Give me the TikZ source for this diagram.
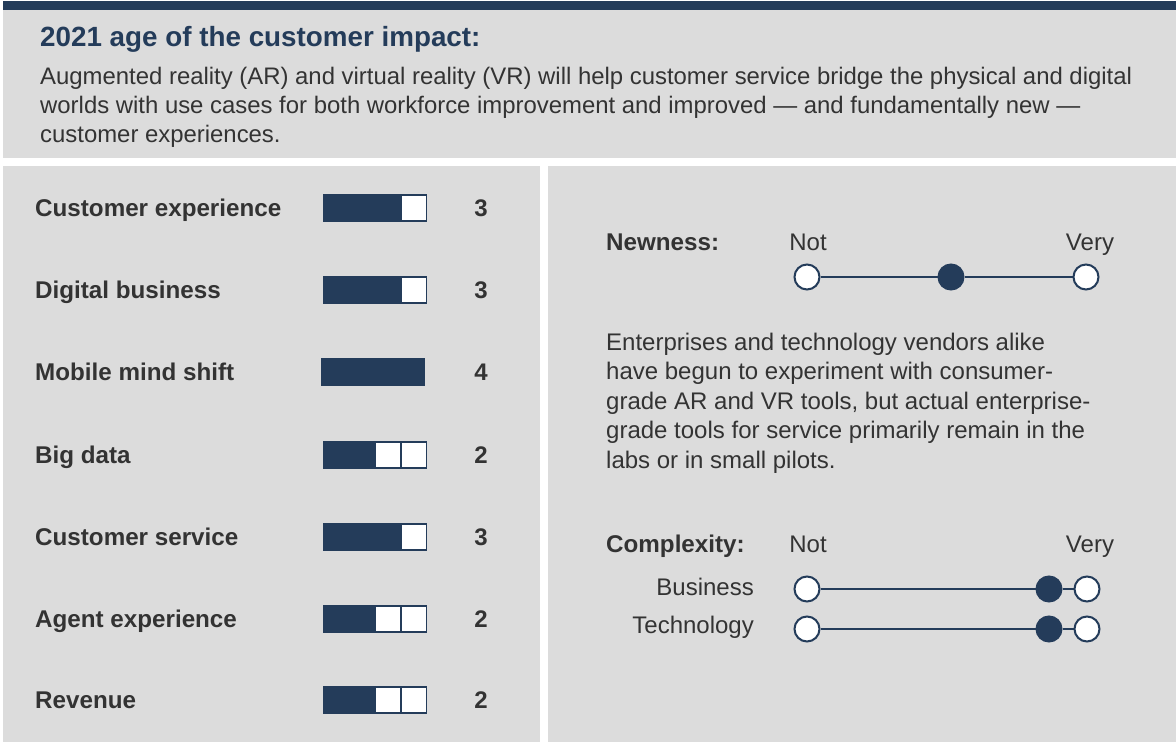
\documentclass[tikz,border=0pt]{standalone}
\usepackage{fontspec}
\setmainfont{Liberation Sans}
\definecolor{navy}{HTML}{243C5A}
\definecolor{panelgray}{HTML}{DCDCDC}
\definecolor{textgray}{HTML}{333333}
\tikzset{
  lbl/.style={anchor=base west, inner sep=0, text=textgray, font=\fontsize{24.2}{28}\selectfont\bfseries},
  txt/.style={inner sep=0, text=textgray, font=\fontsize{24}{28}\selectfont},
  score/.style={anchor=base, inner sep=0, text=textgray, font=\fontsize{24}{28}\selectfont\bfseries},
  seg/.style={rectangle, draw=navy, line width=1.2pt, minimum width=25, minimum height=26, inner sep=0},
  full/.style={seg, fill=navy},
  empty/.style={seg, fill=white},
  dot/.style={circle, draw=navy, line width=2pt, fill=white, minimum size=25, inner sep=0},
  hit/.style={dot, fill=navy},
  scaleline/.style={draw=navy, line width=2.2pt},
}
\begin{document}
\begin{tikzpicture}[x=1pt,y=-1pt]
\useasboundingbox (0,0) rectangle (1176,742);
% panels
\fill[navy] (3,1) rectangle (1176,10);
\fill[panelgray] (3,10) rectangle (1176,158);
\fill[panelgray] (3,166) rectangle (540,742);
\fill[panelgray] (548,166) rectangle (1176,742);

% header
\node[anchor=base west, inner sep=0, text=navy, font=\fontsize{27.8}{32}\selectfont\bfseries](title) at (40,46) {2021 age of the customer impact:};
% base = last line
\node[txt, anchor=base west, align=left, font=\fontsize{23.9}{29}\selectfont](intro) at (40,142)
  {Augmented reality (AR) and virtual reality (VR) will help customer service bridge the physical and digital\\
   worlds with use cases for both workforce improvement and improved --- and fundamentally new ---\\
   customer experiences.};

% ratings
\node[lbl](r1) at (35,216) {Customer experience};
\node[full](r1a) at (336,208) {};
\node[full](r1b) at (362,208) {};
\node[full](r1c) at (388,208) {};
\node[empty](r1d) at (414,208) {};
\node[score](r1n) at (481,216) {3};

\node[lbl](r2) at (35,298) {Digital business};
\node[full](r2a) at (336,290) {};
\node[full](r2b) at (362,290) {};
\node[full](r2c) at (388,290) {};
\node[empty](r2d) at (414,290) {};
\node[score](r2n) at (481,298) {3};

\node[lbl](r3) at (35,380) {Mobile mind shift};
\node[full](r3a) at (334,372) {};
\node[full](r3b) at (360,372) {};
\node[full](r3c) at (386,372) {};
\node[full](r3d) at (412,372) {};
\node[score](r3n) at (481,380) {4};

\node[lbl](r4) at (35,463) {Big data};
\node[full](r4a) at (336,455) {};
\node[full](r4b) at (362,455) {};
\node[empty](r4c) at (388,455) {};
\node[empty](r4d) at (414,455) {};
\node[score](r4n) at (481,463) {2};

\node[lbl](r5) at (35,545) {Customer service};
\node[full](r5a) at (336,537) {};
\node[full](r5b) at (362,537) {};
\node[full](r5c) at (388,537) {};
\node[empty](r5d) at (414,537) {};
\node[score](r5n) at (481,545) {3};

\node[lbl](r6) at (35,627) {Agent experience};
\node[full](r6a) at (336,619) {};
\node[full](r6b) at (362,619) {};
\node[empty](r6c) at (388,619) {};
\node[empty](r6d) at (414,619) {};
\node[score](r6n) at (481,627) {2};

\node[lbl](r7) at (35,708) {Revenue};
\node[full](r7a) at (336,700) {};
\node[full](r7b) at (362,700) {};
\node[empty](r7c) at (388,700) {};
\node[empty](r7d) at (414,700) {};
\node[score](r7n) at (481,708) {2};

% newness
\node[lbl](new) at (606,250) {Newness:};
\node[txt, anchor=base](newnot) at (808,250) {Not};
\node[txt, anchor=base](newvery) at (1090,250) {Very};
\node[dot](n1) at (807,277) {};
\node[hit](n2) at (951,277) {};
\node[dot](n3) at (1086,277) {};
\draw[scaleline] (n1) -- (n2);
\draw[scaleline] (n2) -- (n3);

\node[txt, anchor=base west, align=left, font=\fontsize{24}{29.5}\selectfont](desc) at (606,468)
  {Enterprises and technology vendors alike\\
   have begun to experiment with consumer-\\
   grade AR and VR tools, but actual enterprise-\\
   grade tools for service primarily remain in the\\
   labs or in small pilots.};

% complexity
\node[lbl](cpx) at (606,552) {Complexity:};
\node[txt, anchor=base](cpxnot) at (808,552) {Not};
\node[txt, anchor=base](cpxvery) at (1090,552) {Very};

\node[txt, anchor=base east](bus) at (754,595) {Business};
\node[dot](b1) at (807,589) {};
\node[hit](b2) at (1049,589) {};
\node[dot](b3) at (1087,589) {};
\draw[scaleline] (b1) -- (b2);
\draw[scaleline] (b2) -- (b3);

\node[txt, anchor=base east](tech) at (754,633) {Technology};
\node[dot](t1) at (807,629) {};
\node[hit](t2) at (1049,629) {};
\node[dot](t3) at (1087,629) {};
\draw[scaleline] (t1) -- (t2);
\draw[scaleline] (t2) -- (t3);
\end{tikzpicture}
\end{document}
